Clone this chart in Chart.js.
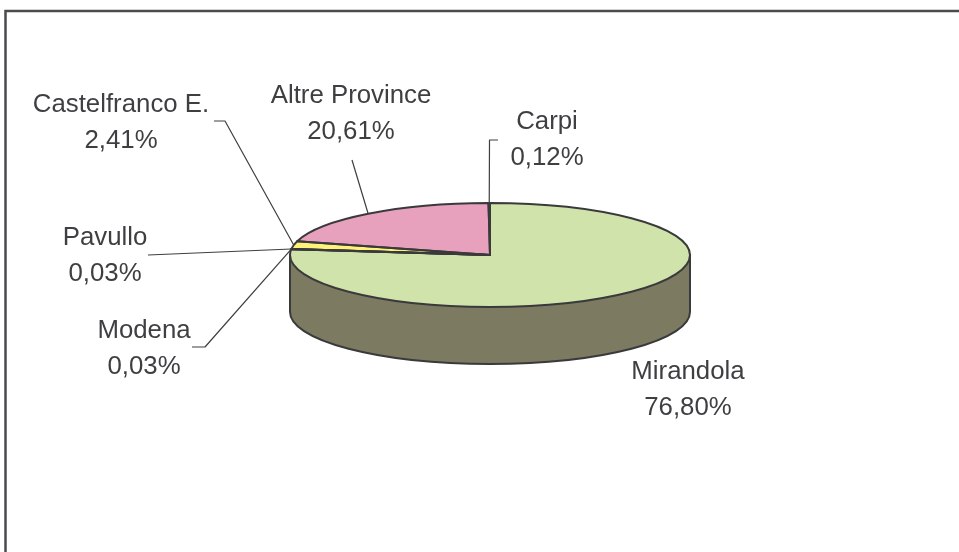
<!DOCTYPE html>
<html>
<head>
<meta charset="utf-8">
<title>Pie</title>
<style>
  html, body { margin: 0; padding: 0; background: #fff; overflow: hidden; }
  #wrap { position: relative; width: 959px; height: 552px; }
</style>
<script src="https://cdn.jsdelivr.net/npm/chart.js@4/dist/chart.umd.min.js"></script>
</head>
<body>
<div id="wrap"><canvas id="pie" width="959" height="552"></canvas></div>
<script>
const sliceNames = ['Mirandola', 'Modena', 'Pavullo', 'Castelfranco E.', 'Altre Province', 'Carpi'];
const sliceValues = [76.80, 0.03, 0.03, 2.41, 20.61, 0.12];
const sliceColors = ['#d0e3ab', '#d0e3ab', '#fff27a', '#fff27a', '#e8a1bd', '#e8a1bd'];

// label centre x, first line y, then the leader line points after the rim point
const labelLayout = [
  { x: 688, y: 372, leader: [] },
  { x: 144, y: 331, leader: [[205, 347], [192, 347]] },
  { x: 105, y: 238, leader: [[148, 255]] },
  { x: 121, y: 105, leader: [[225, 121], [214, 121]] },
  { x: 351, y: 96, leader: [[352, 160]] },
  { x: 547, y: 122, leader: [[489.5, 140], [498, 140]] }
];

const squash = 0.26;
const depth = 57;
const outline = '#3a3a3c';
const textColor = '#3f3f42';
const wallColor = '#7c7a60';

function percentText(v) {
  return v.toFixed(2).replace('.', ',') + '%';
}

function toEllipse(ctx, arc) {
  ctx.translate(arc.x, arc.y);
  ctx.scale(1, squash);
  ctx.translate(-arc.x, -arc.y);
}

const tiltedPie = {
  id: 'tiltedPie',
  beforeDatasetsDraw(chart) {
    const ctx = chart.ctx;
    const arc = chart.getDatasetMeta(0).data[0];
    const r = arc.outerRadius;

    // side wall below the front half
    ctx.save();
    ctx.beginPath();
    ctx.moveTo(arc.x - r, arc.y);
    ctx.lineTo(arc.x - r, arc.y + depth);
    ctx.ellipse(arc.x, arc.y + depth, r, r * squash, 0, Math.PI, 0, true);
    ctx.lineTo(arc.x + r, arc.y);
    ctx.closePath();
    ctx.fillStyle = wallColor;
    ctx.fill();
    ctx.lineWidth = 2;
    ctx.strokeStyle = outline;
    ctx.stroke();
    ctx.restore();

    ctx.save();
    toEllipse(ctx, arc);
  },
  afterDatasetsDraw(chart) {
    const ctx = chart.ctx;
    const meta = chart.getDatasetMeta(0);
    ctx.restore();

    // outlines are stroked unscaled so the line keeps its width
    meta.data.forEach(arc => {
      ctx.save();
      toEllipse(ctx, arc);
      ctx.beginPath();
      ctx.moveTo(arc.x, arc.y);
      ctx.arc(arc.x, arc.y, arc.outerRadius, arc.startAngle, arc.endAngle);
      ctx.closePath();
      ctx.restore();
      ctx.lineWidth = 2;
      ctx.lineJoin = 'round';
      ctx.strokeStyle = outline;
      ctx.stroke();
    });

    // leader lines and labels
    ctx.save();
    ctx.font = '25.8px "Liberation Sans", Arial, sans-serif';
    ctx.textAlign = 'center';
    ctx.textBaseline = 'middle';
    meta.data.forEach((arc, i) => {
      const spot = labelLayout[i];
      const mid = (arc.startAngle + arc.endAngle) / 2;
      if (spot.leader.length) {
        ctx.beginPath();
        ctx.moveTo(arc.x + arc.outerRadius * Math.cos(mid), arc.y + arc.outerRadius * squash * Math.sin(mid));
        spot.leader.forEach(p => ctx.lineTo(p[0], p[1]));
        ctx.lineWidth = 1.2;
        ctx.strokeStyle = '#3f3f42';
        ctx.stroke();
      }
      ctx.fillStyle = textColor;
      ctx.fillText(sliceNames[i], spot.x, spot.y);
      ctx.fillText(percentText(sliceValues[i]), spot.x, spot.y + 36);
    });
    ctx.restore();
  }
};

const frame = {
  id: 'frame',
  beforeDraw(chart) {
    const ctx = chart.ctx;
    ctx.save();
    ctx.strokeStyle = '#4b4b4d';
    ctx.lineWidth = 2.5;
    ctx.beginPath();
    ctx.moveTo(5.5, chart.height);
    ctx.lineTo(5.5, 11);
    ctx.lineTo(chart.width, 11);
    ctx.stroke();
    ctx.restore();
  }
};

new Chart(document.getElementById('pie'), {
  type: 'pie',
  data: {
    labels: sliceNames,
    datasets: [{
      data: sliceValues,
      backgroundColor: sliceColors,
      borderWidth: 0,
      clip: false
    }]
  },
  options: {
    responsive: false,
    animation: false,
    layout: { padding: { left: 290, right: 269, top: 55, bottom: 97 } },
    plugins: { legend: { display: false }, tooltip: { enabled: false } }
  },
  plugins: [frame, tiltedPie]
});
</script>
</body>
</html>
